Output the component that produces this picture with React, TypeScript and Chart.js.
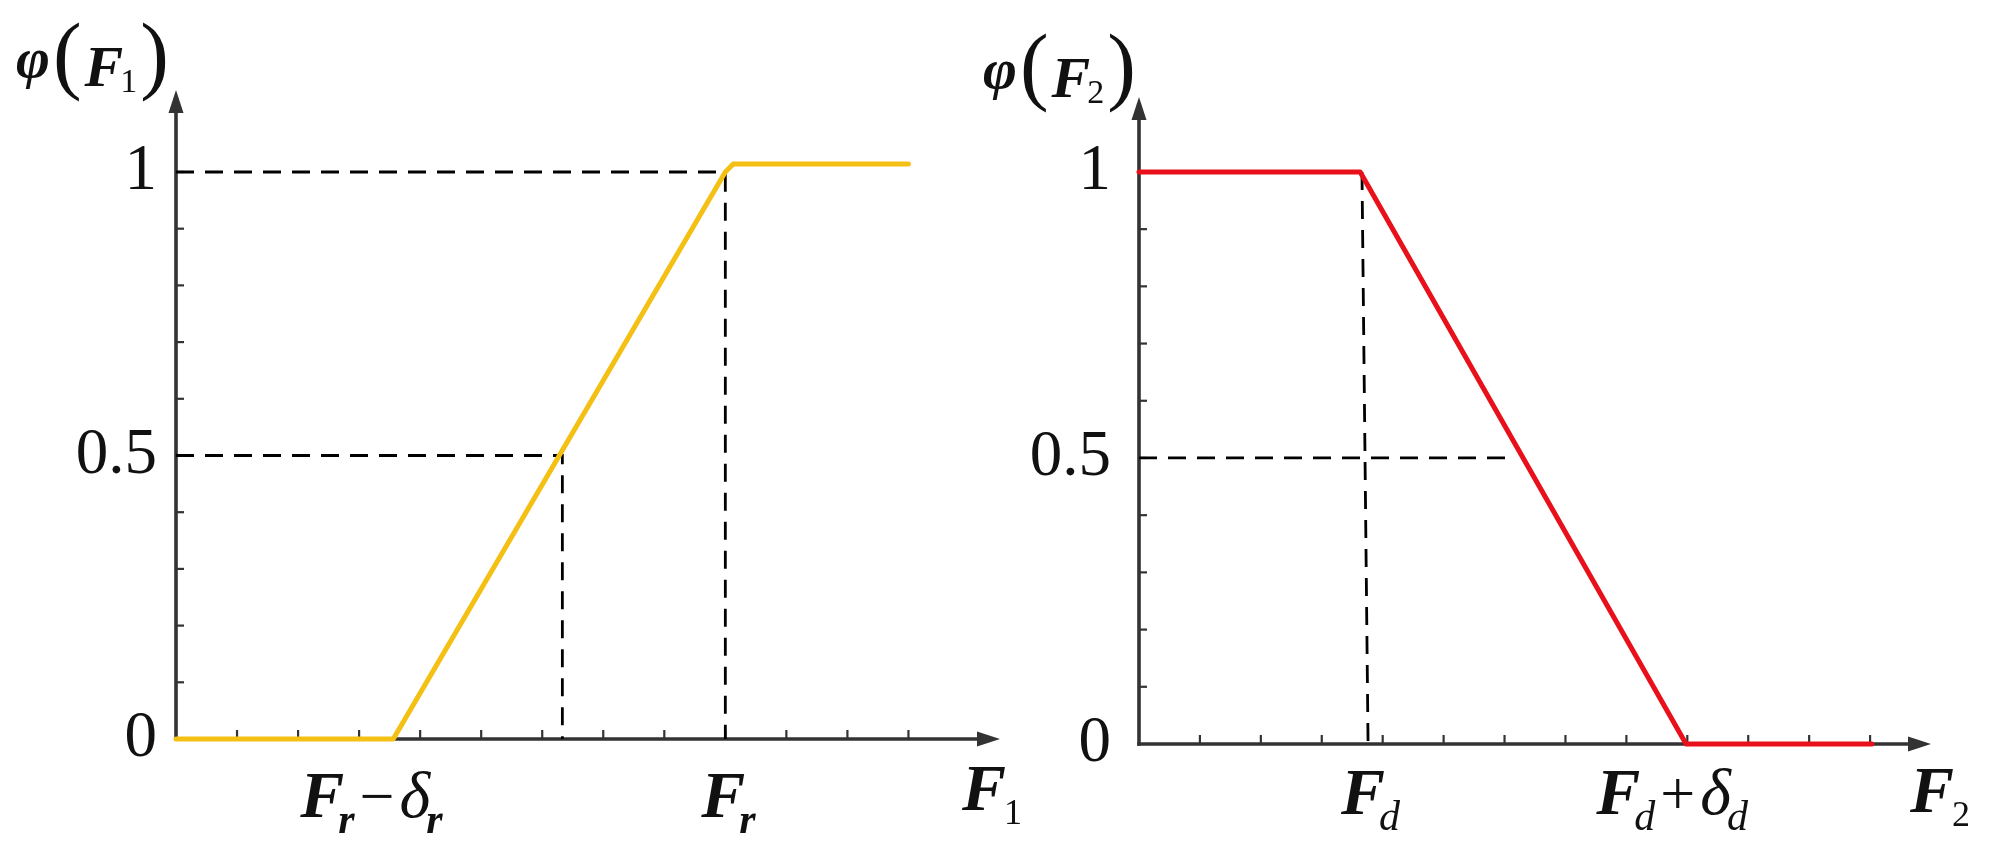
import React, { useEffect, useRef } from "react";
import { Chart, registerables } from "chart.js";

Chart.register(...registerables);

const SERIF = '"Liberation Serif", "Times New Roman", Times, serif';
const AXIS_COLOR = "#333333";
const TEXT_COLOR = "#111111";

// ---------------- left panel: phi(F1) ----------------
const leftCurveX = [0, 3.56, 9.0, 9.13, 12.0];
const leftCurveY = [0, 0, 1, 1.014, 1.014];
const leftGuideTopX = [0, 9.0, 9.0];
const leftGuideTopY = [1, 1, 0];
const leftGuideMidX = [0, 6.33, 6.33];
const leftGuideMidY = [0.5, 0.5, 0];
const leftXTickValues = [1, 2, 3, 4, 5, 6, 7, 8, 9, 10, 11, 12];
const leftXLabelValues = [3.2, 9.05];
const leftXLabels = ["F_r−δ_r", "F_r"];
const leftAxisTitle = "F_1";
const leftYTitle = "φ(F_1)";

// ---------------- right panel: phi(F2) ----------------
const rightCurveX = [0, 3.63, 8.98, 12.03];
const rightCurveY = [1, 1, 0, 0];
const rightGuideVertX = [3.66, 3.76];
const rightGuideVertY = [1, 0];
const rightGuideMidX = [0, 6.15];
const rightGuideMidY = [0.5, 0.5];
const rightXTickValues = [1, 2, 3, 4, 5, 6, 7, 8, 9, 10, 11, 12];
const rightXLabelValues = [3.8, 8.75];
const rightXLabels = ["F_d", "F_d+δ_d"];
const rightAxisTitle = "F_2";
const rightYTitle = "φ(F_2)";

// ---------------- shared y axis ----------------
const yTickValues = [0, 0.1, 0.2, 0.3, 0.4, 0.5, 0.6, 0.7, 0.8, 0.9, 1.0];
const yLabelValues = [0, 0.5, 1];
const yLabelTexts = ["0", "0.5", "1"];

type Sty = { font: string; dy: number; ml: number; mr: number };
type Kind = "label" | "title";

function styleFor(ch: string, sub: boolean, kind: Kind, prev: string): Sty {
  const isDigit = /[0-9]/.test(ch);
  const isOp = ch === "−" || ch === "+";
  const isParen = ch === "(" || ch === ")";
  const bold = ch === "F" || ch === "r" || ch === "φ";
  if (kind === "label") {
    if (sub) {
      if (isDigit) return { font: `36px ${SERIF}`, dy: 14, ml: -2, mr: 0 };
      const back = prev === "F" ? -6 : -4;
      return { font: `italic ${bold ? "bold " : ""}42px ${SERIF}`, dy: 16, ml: back, mr: 0 };
    }
    if (isOp) return { font: `62px ${SERIF}`, dy: 0, ml: 5, mr: 5 };
    return { font: `italic ${bold ? "bold " : ""}66px ${SERIF}`, dy: 0, ml: 0, mr: 0 };
  }
  // title
  if (sub) return { font: `34px ${SERIF}`, dy: 6, ml: -3, mr: 0 };
  if (isParen) return { font: `86px ${SERIF}`, dy: -3, ml: 3, mr: 0 };
  if (ch === "φ") return { font: `italic bold 58px ${SERIF}`, dy: -9, ml: 0, mr: 0 };
  return { font: `italic ${bold ? "bold " : ""}58px ${SERIF}`, dy: 0, ml: prev === "(" ? 3 : 0, mr: 0 };
}

function drawMath(
  ctx: CanvasRenderingContext2D,
  text: string,
  x: number,
  y: number,
  align: "left" | "center",
  kind: Kind
) {
  const items: { ch: string; sub: boolean }[] = [];
  for (let i = 0; i < text.length; i++) {
    if (text[i] === "_" && i + 1 < text.length) {
      items.push({ ch: text[i + 1], sub: true });
      i++;
    } else items.push({ ch: text[i], sub: false });
  }
  const laid = items.map((it, i) => {
    const prev = i > 0 ? items[i - 1].ch : "";
    const s = styleFor(it.ch, it.sub, kind, prev);
    ctx.font = s.font;
    const w = ctx.measureText(it.ch).width;
    return { ...it, s, w };
  });
  const total = laid.reduce((acc, l) => acc + l.s.ml + l.w + l.s.mr, 0);
  let cx = align === "center" ? x - total / 2 : x;
  ctx.save();
  ctx.fillStyle = TEXT_COLOR;
  ctx.textAlign = "left";
  ctx.textBaseline = "alphabetic";
  for (const l of laid) {
    cx += l.s.ml;
    ctx.font = l.s.font;
    ctx.fillText(l.ch, cx, y + l.s.dy);
    cx += l.w + l.s.mr;
  }
  ctx.restore();
}

interface PanelCfg {
  canvasLeft: number;
  canvasWidth: number;
  yWidth: number;
  padTop: number;
  padRight: number;
  xHeight: number;
  xMax: number;
  yMax: number;
  tickPadding: number;
  curveX: number[];
  curveY: number[];
  color: string;
  guides: { x: number[]; y: number[] }[];
  xTicks: number[];
  labelValues: number[];
  labels: string[];
  labelDy: number;
  axisTitle: string;
  axisTitleX: number;
  axisTitleY: number;
  yTitle: string;
  yTitleX: number;
  yTitleY: number;
}

const arrowAxesPlugin = {
  id: "arrowAxes",
  beforeDatasetsDraw(chart: any) {
    const { ctx, chartArea: a } = chart;
    const xs = chart.scales.x;
    const ys = chart.scales.y;
    const x0 = xs.getPixelForValue(0);
    const y0 = ys.getPixelForValue(0);
    ctx.save();
    ctx.strokeStyle = AXIS_COLOR;
    ctx.fillStyle = AXIS_COLOR;
    ctx.lineWidth = 3.6;
    ctx.lineCap = "butt";
    ctx.beginPath();
    ctx.moveTo(x0 - 1.8, y0);
    ctx.lineTo(a.right - 14, y0);
    ctx.stroke();
    ctx.beginPath();
    ctx.moveTo(a.right, y0);
    ctx.lineTo(a.right - 23, y0 - 7.5);
    ctx.lineTo(a.right - 23, y0 + 7.5);
    ctx.closePath();
    ctx.fill();
    ctx.beginPath();
    ctx.moveTo(x0, y0 + 1.8);
    ctx.lineTo(x0, a.top + 14);
    ctx.stroke();
    ctx.beginPath();
    ctx.moveTo(x0, a.top);
    ctx.lineTo(x0 - 7.5, a.top + 23);
    ctx.lineTo(x0 + 7.5, a.top + 23);
    ctx.closePath();
    ctx.fill();
    ctx.lineWidth = 2.2;
    for (const t of xs.ticks) {
      const px = xs.getPixelForValue(t.value);
      ctx.beginPath();
      ctx.moveTo(px, y0);
      ctx.lineTo(px, y0 - 9);
      ctx.stroke();
    }
    for (const t of ys.ticks) {
      if (Math.abs(t.value) < 1e-9) continue;
      const py = ys.getPixelForValue(t.value);
      ctx.beginPath();
      ctx.moveTo(x0, py);
      ctx.lineTo(x0 + 8, py);
      ctx.stroke();
    }
    ctx.restore();
  },
};

function makeLabelsPlugin(cfg: PanelCfg) {
  return {
    id: "mathLabels",
    afterDraw(chart: any) {
      const { ctx, chartArea: a } = chart;
      const xs = chart.scales.x;
      cfg.labels.forEach((lab, i) => {
        const px = xs.getPixelForValue(cfg.labelValues[i]);
        drawMath(ctx, lab, px, a.bottom + cfg.labelDy, "center", "label");
      });
      drawMath(ctx, cfg.axisTitle, cfg.axisTitleX, cfg.axisTitleY, "left", "label");
      drawMath(ctx, cfg.yTitle, cfg.yTitleX, cfg.yTitleY, "left", "title");
    },
  };
}

function Panel({ cfg }: { cfg: PanelCfg }) {
  const ref = useRef<HTMLCanvasElement | null>(null);
  useEffect(() => {
    if (!ref.current) return;
    const datasets: any[] = [
      {
        data: cfg.curveX.map((x, i) => ({ x, y: cfg.curveY[i] })),
        borderColor: cfg.color,
        borderWidth: 5,
        pointRadius: 0,
        fill: false,
        tension: 0,
        borderCapStyle: "round",
        borderJoinStyle: "round",
        clip: false,
      },
      ...cfg.guides.map((g) => ({
        data: g.x.map((x, i) => ({ x, y: g.y[i] })),
        borderColor: "#000000",
        borderWidth: 2.8,
        borderDash: [18, 11],
        pointRadius: 0,
        fill: false,
        tension: 0,
        clip: false,
      })),
    ];
    const chart = new Chart(ref.current, {
      type: "line",
      data: { datasets },
      options: {
        animation: false,
        responsive: false,
        events: [],
        layout: { padding: { top: cfg.padTop, right: cfg.padRight, left: 0, bottom: 0 } },
        plugins: { legend: { display: false }, tooltip: { enabled: false } },
        scales: {
          x: {
            type: "linear",
            min: 0,
            max: cfg.xMax,
            grid: { display: false, drawTicks: false },
            border: { display: false },
            ticks: { display: false },
            afterBuildTicks: (s: any) => {
              s.ticks = cfg.xTicks.map((v) => ({ value: v }));
            },
            afterFit: (s: any) => {
              s.height = cfg.xHeight;
            },
          },
          y: {
            type: "linear",
            min: 0,
            max: cfg.yMax,
            grid: { display: false, drawTicks: false },
            border: { display: false },
            ticks: {
              autoSkip: false,
              padding: cfg.tickPadding,
              color: TEXT_COLOR,
              font: { family: SERIF, size: 65 },
              callback: (v: any) => {
                const i = yLabelValues.findIndex((l) => Math.abs(l - Number(v)) < 1e-6);
                return i >= 0 ? yLabelTexts[i] : "";
              },
            },
            afterBuildTicks: (s: any) => {
              s.ticks = yTickValues.map((v) => ({ value: v }));
            },
            afterFit: (s: any) => {
              s.width = cfg.yWidth;
            },
          },
        },
      } as any,
      plugins: [arrowAxesPlugin, makeLabelsPlugin(cfg)],
    });
    return () => chart.destroy();
  }, [cfg]);
  return (
    <canvas
      ref={ref}
      width={cfg.canvasWidth}
      height={862}
      style={{
        position: "absolute",
        left: cfg.canvasLeft,
        top: 0,
        width: cfg.canvasWidth,
        height: 862,
      }}
    />
  );
}

const leftCfg: PanelCfg = {
  canvasLeft: 0,
  canvasWidth: 1030,
  yWidth: 176,
  padTop: 90,
  padRight: 30,
  xHeight: 123,
  xMax: 13.5,
  yMax: 1.1446,
  tickPadding: 19,
  curveX: leftCurveX,
  curveY: leftCurveY,
  color: "#F4C013",
  guides: [
    { x: leftGuideTopX, y: leftGuideTopY },
    { x: leftGuideMidX, y: leftGuideMidY },
  ],
  xTicks: leftXTickValues,
  labelValues: leftXLabelValues,
  labels: leftXLabels,
  labelDy: 78,
  axisTitle: leftAxisTitle,
  axisTitleX: 962,
  axisTitleY: 810,
  yTitle: leftYTitle,
  yTitleX: 16,
  yTitleY: 86,
};

const rightCfg: PanelCfg = {
  canvasLeft: 950,
  canvasWidth: 1050,
  yWidth: 189,
  padTop: 97,
  padRight: 69,
  xHeight: 118,
  xMax: 13.0,
  yMax: 1.131,
  tickPadding: 28,
  curveX: rightCurveX,
  curveY: rightCurveY,
  color: "#E8101A",
  guides: [
    { x: rightGuideVertX, y: rightGuideVertY },
    { x: rightGuideMidX, y: rightGuideMidY },
  ],
  xTicks: rightXTickValues,
  labelValues: rightXLabelValues,
  labels: rightXLabels,
  labelDy: 70,
  axisTitle: rightAxisTitle,
  axisTitleX: 960,
  axisTitleY: 812,
  yTitle: rightYTitle,
  yTitleX: 33,
  yTitleY: 97,
};

export default function App() {
  return (
    <div
      style={{
        position: "absolute",
        left: 0,
        top: 0,
        width: 2000,
        height: 862,
        background: "#ffffff",
        overflow: "hidden",
      }}
    >
      <Panel cfg={leftCfg} />
      <Panel cfg={rightCfg} />
    </div>
  );
}
